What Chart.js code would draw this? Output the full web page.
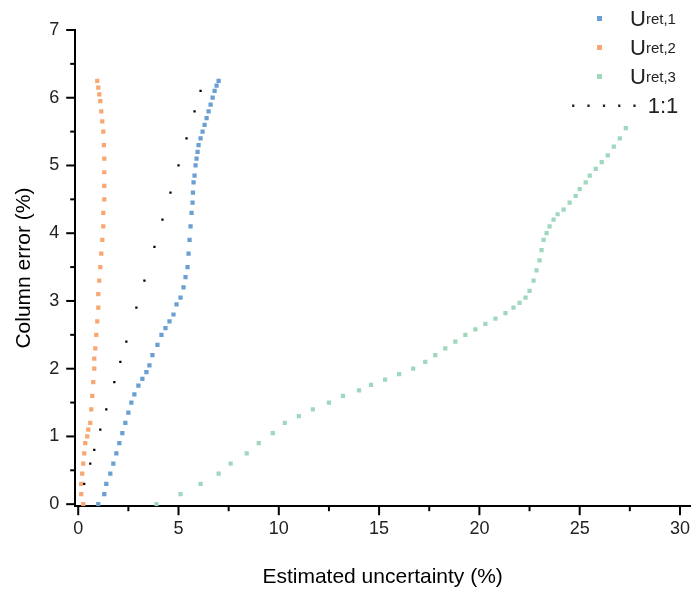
<!DOCTYPE html>
<html><head>
<script src="https://cdn.jsdelivr.net/npm/chart.js@4.4.0/dist/chart.umd.min.js"></script>
<style>
body{margin:0;background:#fff;font-family:"Liberation Sans",Arial,sans-serif}
#wrap{position:relative;width:697px;height:596px}
#legend{position:absolute;left:555px;top:4px;font-size:22px;color:#222}
#legend div{height:29px;display:flex;align-items:center}
#legend .mk{display:inline-block;width:5px;height:5px;margin:0 28px 0 42px}
#legend sub{font-size:15px;vertical-align:-6px}
</style>
</head><body>
<div id="wrap"><canvas id="c" width="697" height="596"></canvas>
<div id="legend">
<div><span class="mk" style="background:#6a9fd2"></span>U<sub>ret,1</sub></div>
<div><span class="mk" style="background:#f9a772"></span>U<sub>ret,2</sub></div>
<div><span class="mk" style="background:#9fd8bc"></span>U<sub>ret,3</sub></div>
<div><span style="letter-spacing:10px;margin-left:16px;font-size:16px;font-weight:bold">·····</span>1:1</div>
</div></div>
<script>
const u1x = [1.0,1.3,1.4,1.6,1.75,1.9,2.05,2.2,2.35,2.5,2.65,2.8,3.0,3.2,3.4,3.55,3.7,3.95,4.15,4.35,4.55,4.75,4.9,5.1,5.25,5.35,5.45,5.5,5.55,5.6,5.65,5.7,5.72,5.75,5.8,5.85,5.9,5.95,6.0,6.1,6.2,6.3,6.4,6.5,6.6,6.7,6.8,6.9,7.0];
const u1y = [0,0.15,0.3,0.45,0.6,0.75,0.9,1.05,1.2,1.35,1.5,1.62,1.75,1.85,1.95,2.05,2.2,2.35,2.5,2.6,2.7,2.8,2.95,3.05,3.2,3.35,3.5,3.7,3.9,4.1,4.3,4.45,4.6,4.75,4.85,5.0,5.1,5.2,5.3,5.4,5.5,5.6,5.7,5.8,5.9,6.0,6.1,6.18,6.25];
const u2x = [0.25,0.15,0.15,0.2,0.25,0.3,0.35,0.45,0.5,0.6,0.65,0.7,0.75,0.8,0.8,0.85,0.9,0.95,1.0,1.0,1.05,1.1,1.15,1.2,1.25,1.25,1.3,1.3,1.3,1.3,1.28,1.25,1.2,1.15,1.1,1.05,1.0,0.95];
const u2y = [0,0.15,0.3,0.45,0.6,0.75,0.9,1.0,1.1,1.2,1.4,1.6,1.8,2.0,2.15,2.3,2.5,2.7,2.9,3.1,3.3,3.5,3.7,3.9,4.1,4.3,4.5,4.7,4.9,5.1,5.3,5.5,5.65,5.8,5.95,6.05,6.15,6.25];
const u3x = [3.9,5.1,6.1,7.0,7.6,8.4,9.0,9.7,10.3,11.0,11.7,12.5,13.2,14.0,14.6,15.3,16.0,16.7,17.3,17.8,18.3,18.8,19.3,19.8,20.3,20.8,21.3,21.7,22.0,22.3,22.5,22.7,22.85,23.0,23.1,23.2,23.35,23.5,23.7,23.9,24.2,24.5,24.8,25.0,25.3,25.5,25.8,26.1,26.4,26.7,27.0,27.3];
const u3y = [0,0.15,0.3,0.45,0.6,0.75,0.9,1.05,1.2,1.3,1.4,1.5,1.6,1.68,1.76,1.84,1.92,2.0,2.1,2.2,2.3,2.4,2.5,2.58,2.66,2.74,2.82,2.9,2.97,3.05,3.15,3.3,3.45,3.6,3.75,3.9,4.0,4.1,4.2,4.28,4.35,4.45,4.55,4.65,4.75,4.85,4.95,5.05,5.15,5.28,5.4,5.55];
const oneX = [0.3,0.6,0.8,1.1,1.4,1.8,2.1,2.4,2.9,3.3,3.8,4.2,4.6,5.0,5.4,5.8,6.1];
const oneY = [0.3,0.6,0.8,1.1,1.4,1.8,2.1,2.4,2.9,3.3,3.8,4.2,4.6,5.0,5.4,5.8,6.1];

function pts(xs, ys) { return xs.map((x, i) => ({x: x, y: ys[i]})); }
function ds(data, color, r) {
  return {data: data, showLine: false, pointStyle: 'rect', pointRadius: r, pointBorderWidth: 0,
    backgroundColor: color, borderColor: color};
}

// minor ticks and outward tick marks drawn by hand
const minorTicks = {
  id: 'minorTicks',
  afterDraw(chart) {
    const c = chart.ctx, xs = chart.scales.x, ys = chart.scales.y;
    c.save(); c.strokeStyle = '#000'; c.lineWidth = 2;
    for (let v = 0; v <= 30; v += 2.5) {
      const p = xs.getPixelForValue(v), big = v % 5 === 0;
      c.beginPath(); c.moveTo(p, ys.bottom); c.lineTo(p, ys.bottom + (big ? 9 : 5)); c.stroke();
    }
    for (let v = 0; v <= 7; v += 0.5) {
      const p = ys.getPixelForValue(v), big = v % 1 === 0;
      c.beginPath(); c.moveTo(xs.left, p); c.lineTo(xs.left - (big ? 9 : 5), p); c.stroke();
    }
    c.restore();
  }
};

new Chart(document.getElementById('c'), {
  type: 'scatter',
  data: {datasets: [
    ds(pts(oneX, oneY), '#000', 1.6),
    ds(pts(u1x, u1y), '#6a9fd2', 3),
    ds(pts(u2x, u2y), '#f9a772', 3),
    ds(pts(u3x, u3y), '#9fd8bc', 3)
  ]},
  plugins: [minorTicks],
  options: {
    responsive: false, animation: false,
    layout: {padding: {top: 30, right: 7, left: 8, bottom: 2}},
    plugins: {legend: {display: false}, tooltip: {enabled: false}},
    scales: {
      x: {min: -0.15, max: 30.5, border: {color: '#000', width: 2},
        grid: {display: false},
        afterBuildTicks: s => { s.ticks = [0,5,10,15,20,25,30].map(v => ({value: v})); },
        ticks: {color: '#222', font: {size: 18, family: 'Liberation Sans'}, padding: 4},
        title: {display: true, text: 'Estimated uncertainty (%)', color: '#000', font: {size: 21, family: 'Liberation Sans'}, padding: {top: 21, bottom: 4}}},
      y: {min: -0.03, max: 7, border: {color: '#000', width: 2},
        grid: {display: false},
        afterBuildTicks: s => { s.ticks = [0,1,2,3,4,5,6,7].map(v => ({value: v})); },
        ticks: {color: '#222', font: {size: 18, family: 'Liberation Sans'}, padding: 8},
        title: {display: true, text: 'Column error (%)', color: '#000', font: {size: 21, family: 'Liberation Sans'}}}
    }
  }
});
</script>
</body></html>
